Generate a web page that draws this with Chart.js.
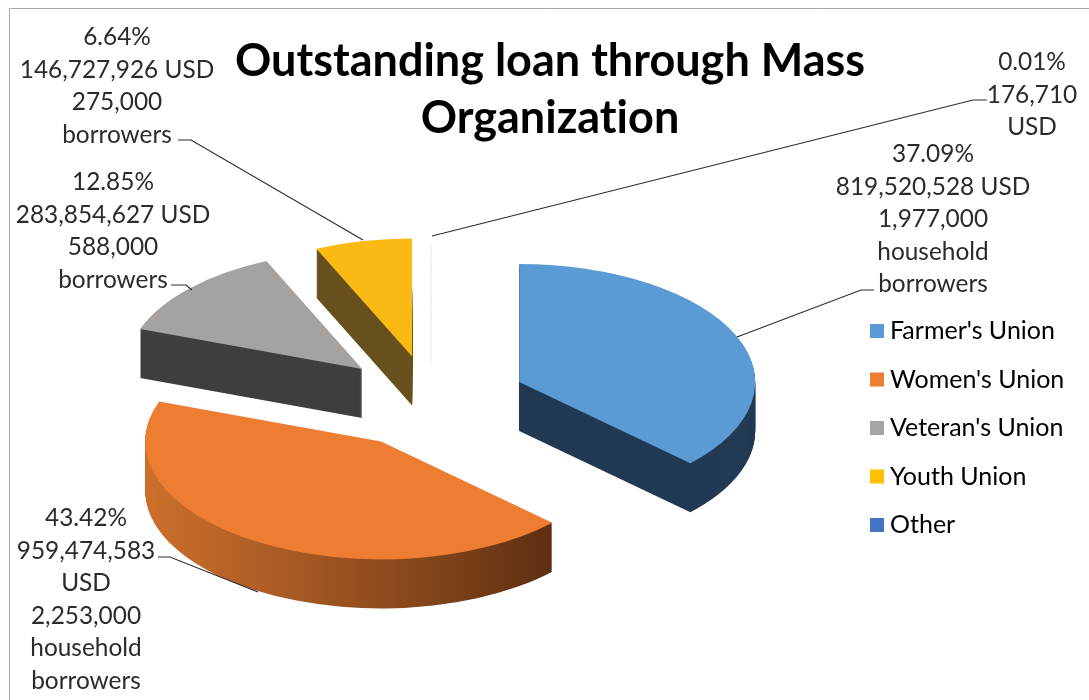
<!DOCTYPE html>
<html>
<head>
<meta charset="utf-8">
<style>html,body{margin:0;padding:0;background:#fff}canvas{display:block}</style>
<script src="https://cdn.jsdelivr.net/npm/chart.js@4/dist/chart.umd.min.js"></script>
</head>
<body>
<canvas id="c" width="1089" height="700"></canvas>
<script>
const categories = ["Farmer's Union", "Women's Union", "Veteran's Union", "Youth Union", "Other"];
const loanUsd = [819520528, 959474583, 283854627, 146727926, 176710];
const titleLines = ["Outstanding loan through Mass", "Organization"];
const sliceColors = ['#5b9bd5', '#ed7d31', '#a5a5a5', '#ffc000', '#4472c4'];
const topColors = ['#5b9bd5', '#ed7d31', '#a5a2a0', '#fbb913', '#e6ecf4'];
const sideColors = ['#223a53', null, '#403f3d', '#67501d', null];
const labelLines = [
  ['37.09%', '819,520,528 USD', '1,977,000', 'household', 'borrowers'],
  ['43.42%', '959,474,583', 'USD', '2,253,000', 'household', 'borrowers'],
  ['12.85%', '283,854,627 USD', '588,000', 'borrowers'],
  ['6.64%', '146,727,926 USD', '275,000', 'borrowers'],
  ['0.01%', '176,710', 'USD']
];
// layout of the pie and its annotations
const explode = [96, 95, 94, 91, 78];
const PIE = {cx: 431, cy: 401, r: 236, squash: 0.5, depth: 49};
const labelPos = [[933, 154.5], [86, 518.5], [113, 182.5], [117, 37.5], [1032, 62.5]];
const leaders = [
  [[874, 290], [861, 290], [737, 337]],
  [[158, 557], [170, 557], [258, 592]],
  [[171, 285], [186, 285], [192, 290]],
  [[178, 140], [191, 140], [363, 240]],
  [[987, 100], [973, 100], [432, 236]]
];
const LINE_H = 32.5;
const FONT = 'Lato';

const pie3d = {
  id: 'pie3d',
  afterLayout(chart) {
    const t = chart.titleBlock;
    t.left += 5.5; t.right += 5.5;
    const l = chart.legend;
    l.left = 853; l.right = 1089; l.top = 295; l.bottom = 700; l.width = 236; l.height = 405;
  },
  afterDatasetsUpdate(chart) {
    const arcs = chart.getDatasetMeta(0).data;
    const a = chart.chartArea;
    chart.$cx = (a.left + a.right) / 2;
    chart.$cy = (a.top + a.bottom) / 2;
    arcs.forEach((arc, i) => {
      const mid = (arc.startAngle + arc.endAngle) / 2;
      arc.x = chart.$cx + Math.cos(mid) * explode[i];
      arc.y = chart.$cy + Math.sin(mid) * explode[i];
    });
  },
  beforeDraw(chart) {
    const ctx = chart.ctx;
    ctx.textRendering = 'optimizeSpeed';
    ctx.save();
    ctx.strokeStyle = '#a6a6a6';
    ctx.lineWidth = 1;
    ctx.beginPath();
    ctx.moveTo(9.5, 700); ctx.lineTo(9.5, 8.5); ctx.lineTo(1089, 8.5);
    ctx.stroke();
    ctx.restore();
  },
  beforeDatasetsDraw(chart) {
    const ctx = chart.ctx;
    ctx.save();
    ctx.translate(PIE.cx, PIE.cy);
    ctx.scale(1, PIE.squash);
    ctx.translate(-chart.$cx, -chart.$cy);
    const arcs = chart.getDatasetMeta(0).data;
    arcs.forEach((arc, i) => {
      if (i === 4) return;
      let fill = sideColors[i];
      if (i === 1) {
        const dx = PIE.cx - chart.$cx;
        const g = ctx.createLinearGradient(145 - dx, 0, 555 - dx, 0);
        g.addColorStop(0, '#cd702b');
        g.addColorStop(0.38, '#a55823');
        g.addColorStop(0.72, '#7f431a');
        g.addColorStop(1, '#5c2e10');
        fill = g;
      }
      ctx.fillStyle = fill;
      for (let k = PIE.depth; k >= 1; k--) {
        const dy = k / PIE.squash;
        ctx.beginPath();
        ctx.moveTo(arc.x, arc.y + dy);
        ctx.arc(arc.x, arc.y + dy, arc.outerRadius, arc.startAngle, arc.endAngle);
        ctx.closePath();
        ctx.fill();
      }
    });
  },
  afterDatasetsDraw(chart) {
    chart.ctx.restore();
  },
  afterDraw(chart) {
    const ctx = chart.ctx;
    ctx.save();
    ctx.strokeStyle = '#2e2e2e';
    ctx.lineWidth = 1.2;
    leaders.forEach(pts => {
      ctx.beginPath();
      pts.forEach((p, i) => i ? ctx.lineTo(p[0], p[1]) : ctx.moveTo(p[0], p[1]));
      ctx.stroke();
    });
    ctx.fillStyle = '#2b2b2b';
    ctx.font = '24.4px ' + FONT;
    ctx.textAlign = 'center';
    ctx.textBaseline = 'middle';
    labelLines.forEach((lines, i) => {
      lines.forEach((s, j) => ctx.fillText(s, labelPos[i][0], labelPos[i][1] + j * LINE_H));
    });
    ctx.restore();
  }
};

new Chart(document.getElementById('c'), {
  type: 'pie',
  data: {
    labels: categories,
    datasets: [{
      data: loanUsd,
      backgroundColor: topColors,
      borderWidth: [0, 0, 0, 0, 1],
      borderColor: '#e6ecf4',
      radius: PIE.r,
      clip: false
    }]
  },
  options: {
    responsive: false,
    animation: false,
    plugins: {
      tooltip: {enabled: false},
      title: {
        display: true,
        text: titleLines,
        color: '#000',
        font: {family: FONT, size: 45, weight: 'bold', lineHeight: 1.267},
        padding: {top: 33, bottom: 0}
      },
      legend: {
        position: 'right',
        align: 'start',
        labels: {
          color: '#2b2b2b',
          font: {family: FONT, size: 25},
          boxWidth: 1,
          boxHeight: 14,
          padding: 23.5,
          usePointStyle: true,
          pointStyle: 'rect',
          generateLabels(chart) {
            return categories.map((c, i) => ({text: c, fillStyle: sliceColors[i], strokeStyle: sliceColors[i], lineWidth: 0, pointStyle: 'rect', index: i}));
          }
        }
      }
    }
  },
  plugins: [pie3d]
});
</script>
</body>
</html>
